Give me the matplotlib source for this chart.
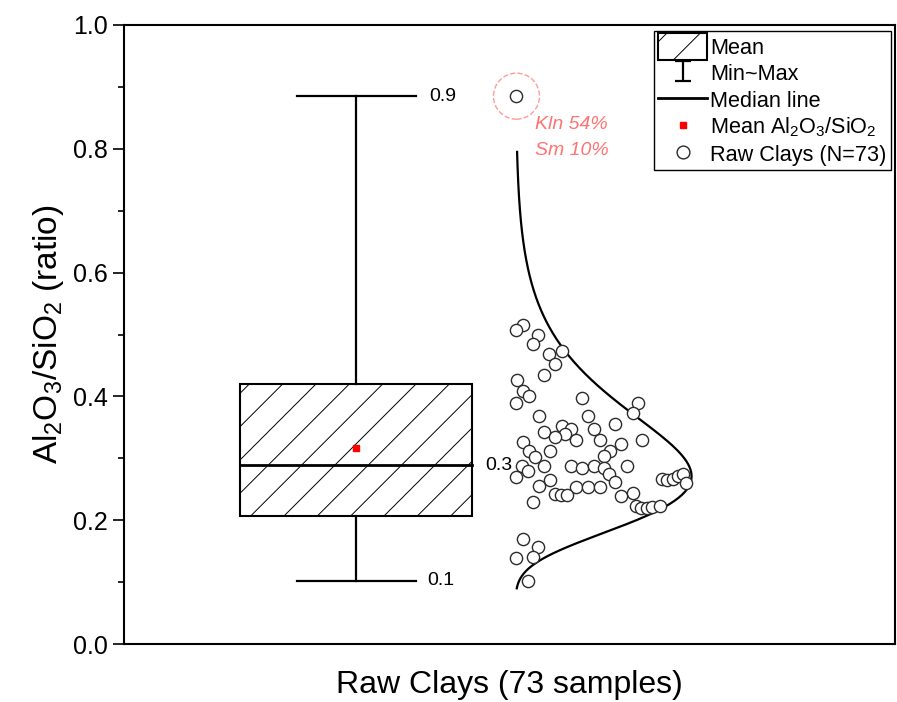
import numpy as np
import matplotlib
matplotlib.use('Agg')
import matplotlib.pyplot as plt
from matplotlib.patches import Patch, Rectangle
from matplotlib.lines import Line2D
from matplotlib.path import Path
from matplotlib.legend_handler import HandlerPatch
from matplotlib.ticker import MultipleLocator, FormatStrFormatter

plt.rcParams['font.family'] = ['Liberation Sans', 'DejaVu Sans']
plt.rcParams['mathtext.fontset'] = 'custom'
plt.rcParams['mathtext.rm'] = 'Liberation Sans'
plt.rcParams['mathtext.it'] = 'Liberation Sans:italic'
plt.rcParams['mathtext.default'] = 'regular'
plt.rcParams['hatch.linewidth'] = 0.7

# Al2O3/SiO2 ratio of the raw clays
ratios = [0.885, 0.516, 0.508, 0.500, 0.485, 0.473, 0.468, 0.452, 0.435, 0.426,
          0.408, 0.400, 0.389, 0.397, 0.390, 0.373, 0.368, 0.369, 0.356, 0.352,
          0.348, 0.342, 0.339, 0.334, 0.329, 0.347, 0.329, 0.327, 0.329, 0.323,
          0.311, 0.303, 0.311, 0.311, 0.302, 0.287, 0.287, 0.285, 0.287, 0.284,
          0.287, 0.287, 0.279, 0.269, 0.274, 0.261, 0.265, 0.256, 0.253, 0.253,
          0.253, 0.242, 0.240, 0.240, 0.244, 0.239, 0.229, 0.266, 0.265, 0.266,
          0.271, 0.274, 0.260, 0.223, 0.219, 0.219, 0.221, 0.223, 0.169, 0.156,
          0.139, 0.140, 0.102]
# horizontal spread of the raw points
jitter_x = [1.345, 1.358, 1.345, 1.392, 1.381, 1.442, 1.416, 1.429, 1.405, 1.347,
            1.358, 1.371, 1.345, 1.487, 1.606, 1.595, 1.394, 1.500, 1.558, 1.442,
            1.463, 1.405, 1.450, 1.429, 1.474, 1.513, 1.524, 1.358, 1.616, 1.571,
            1.547, 1.534, 1.418, 1.371, 1.384, 1.405, 1.463, 1.487, 1.511, 1.534,
            1.582, 1.356, 1.369, 1.345, 1.545, 1.558, 1.418, 1.394, 1.474, 1.498,
            1.524, 1.427, 1.440, 1.453, 1.595, 1.571, 1.381, 1.659, 1.670, 1.681,
            1.692, 1.703, 1.711, 1.603, 1.614, 1.625, 1.636, 1.653, 1.358, 1.392,
            1.345, 1.381, 1.369]

# box statistics
box_low = 0.206
box_high = 0.420
median_val = 0.289
mean_val = 0.316
min_val = 0.102
max_val = 0.885

# lognormal distribution curve
curve_mode = 0.271
curve_sigma = 0.35
curve_range = (0.09, 0.795)

box_pos = 1.0
box_width = 0.5
curve_base = 1.343
curve_width = 0.379

fig = plt.figure(figsize=(8.97, 7.02), dpi=100)
ax = fig.add_axes([0.1382, 0.0826, 0.8596, 0.8818])

# box with hatching
ax.add_patch(Rectangle((box_pos - box_width / 2, box_low), box_width, box_high - box_low,
                       facecolor='white', edgecolor='black', hatch='/', lw=1.5, zorder=2))
ax.plot([box_pos - box_width / 2, box_pos + box_width / 2], [median_val, median_val],
        color='black', lw=2.0, zorder=3)

# whiskers
cap = 0.128
ax.plot([box_pos, box_pos], [box_high, max_val], color='black', lw=1.6, zorder=2)
ax.plot([box_pos, box_pos], [min_val, box_low], color='black', lw=1.6, zorder=2)
ax.plot([box_pos - cap, box_pos + cap], [max_val, max_val], color='black', lw=1.6)
ax.plot([box_pos - cap, box_pos + cap], [min_val, min_val], color='black', lw=1.6)

ax.plot([box_pos], [mean_val], marker='s', ms=5, color='red', mec='red', ls='none', zorder=4)

ax.text(1.157, max_val, f'{max_val:.1f}', fontsize=14, va='center', ha='left')
ax.text(1.153, min_val, f'{min_val:.1f}', fontsize=14, va='center', ha='left')
ax.text(1.278, median_val, f'{median_val:.1f}', fontsize=14, va='center', ha='left')

mu = np.log(curve_mode) + curve_sigma ** 2
yy = np.linspace(curve_range[0], curve_range[1], 300)
pdf = np.exp(-(np.log(yy) - mu) ** 2 / (2 * curve_sigma ** 2)) / yy
ax.plot(curve_base + curve_width * pdf / pdf.max(), yy, color='black', lw=1.6, zorder=3)

# raw points
ax.plot(jitter_x, ratios, 'o', ms=8.8, mfc='white', mec='#2b2b2b', mew=1.0, ls='none', zorder=4)

# highlight of the kaolinite-rich outlier
ax.scatter([jitter_x[0]], [ratios[0]], s=1100, facecolors='none', edgecolors='#ff9a9a',
           linestyles='--', linewidths=1.0, zorder=3)
ax.text(1.384, 0.839, 'Kln 54%', color='#ff7373', fontsize=14, style='italic', va='center')
ax.text(1.384, 0.798, 'Sm 10%', color='#ff7373', fontsize=14, style='italic', va='center')

ax.set_xlim(0.5, 2.16)
ax.set_ylim(0, 1.0)
ax.yaxis.set_major_locator(MultipleLocator(0.2))
ax.yaxis.set_minor_locator(MultipleLocator(0.1))
ax.yaxis.set_major_formatter(FormatStrFormatter('%.1f'))
ax.set_xticks([])
ax.tick_params(axis='y', which='major', direction='out', length=8, width=1.2, labelsize=18)
ax.tick_params(axis='y', which='minor', direction='out', length=4, width=1.2)
for sp in ax.spines.values():
    sp.set_linewidth(1.5)

ax.set_ylabel('Al$_2$O$_3$/SiO$_2$ (ratio)', fontsize=24, labelpad=5)
ax.set_xlabel('Raw Clays (73 samples)', fontsize=23, labelpad=19)


def tall_box(legend, orig_handle, xdescent, ydescent, width, height, fontsize):
    # hatched box a little taller than the default legend patch
    return Rectangle((-xdescent, -ydescent - 2), width, height + 4)


# legend handles
ibeam = Path([(-0.8, -1), (0.8, -1), (0, -1), (0, 1), (-0.8, 1), (0.8, 1)],
             [Path.MOVETO, Path.LINETO, Path.MOVETO, Path.LINETO, Path.MOVETO, Path.LINETO])
box_handle = Patch(facecolor='white', edgecolor='black', hatch='/', lw=1.5)
handles = [
    box_handle,
    Line2D([], [], marker=ibeam, ms=15, color='black', mew=1.6, ls='none'),
    Line2D([], [], color='black', lw=2.0),
    Line2D([], [], marker='s', ms=5, color='red', ls='none'),
    Line2D([], [], marker='o', ms=9.2, mfc='white', mec='#2b2b2b', mew=1.0, ls='none'),
]
labels = ['Mean', 'Min~Max', 'Median line', 'Mean Al$_2$O$_3$/SiO$_2$', 'Raw Clays (N=73)']
leg = ax.legend(handles, labels, loc='upper right', bbox_to_anchor=(0.9948, 0.9903),
                borderaxespad=0, fontsize=15.6, frameon=True, fancybox=False,
                edgecolor='black', framealpha=1, handlelength=2.25, handleheight=1.2,
                labelspacing=0.15, handletextpad=0.15, borderpad=0.2,
                handler_map={box_handle: HandlerPatch(patch_func=tall_box)})
leg.get_frame().set_linewidth(1.0)

fig.savefig('out.png', dpi=100)
